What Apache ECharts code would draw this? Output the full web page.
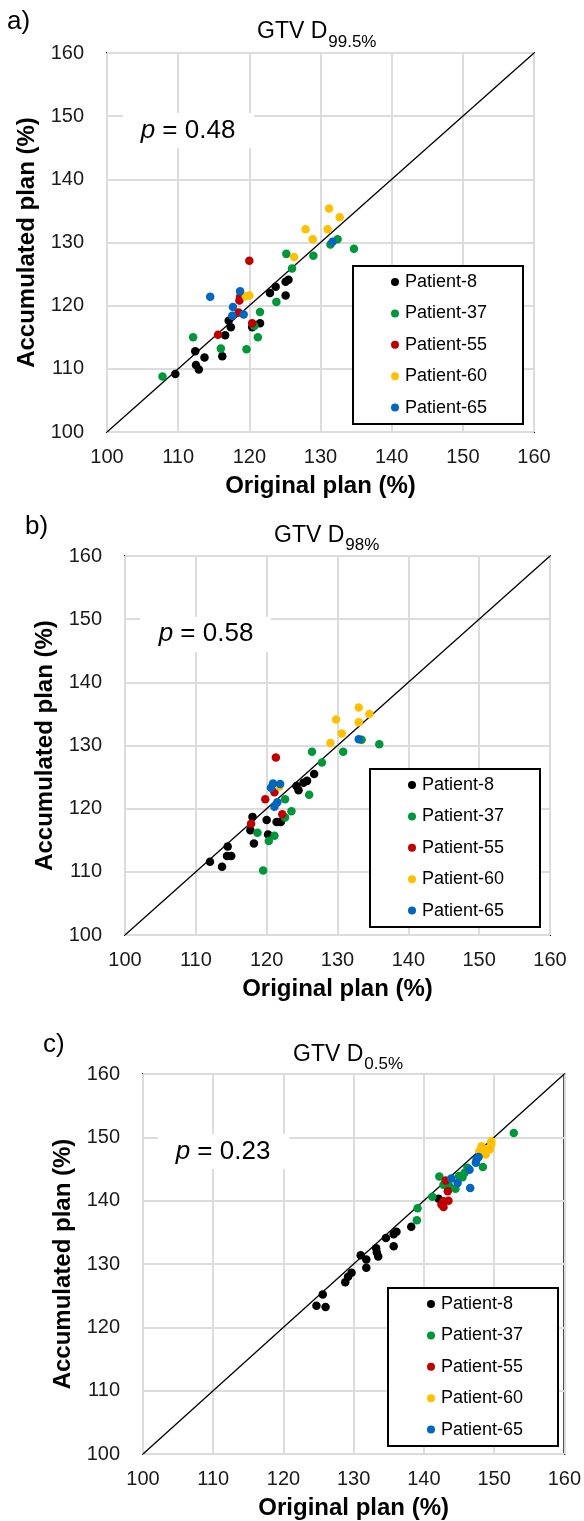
<!DOCTYPE html>
<html>
<head>
<meta charset="utf-8">
<script src="https://cdn.jsdelivr.net/npm/echarts@6/dist/echarts.min.js"></script>
<style>
  html, body { margin: 0; padding: 0; background: #fff; }
  #chart { width: 584px; height: 1521px; }
</style>
</head>
<body>
<div id="chart"></div>
<script>
// Axis ticks shared by all three panels (dose in % of prescription)
const ticks = [100, 110, 120, 130, 140, 150, 160];
// Line of identity
const identity = [[100, 100], [160, 160]];

const patients = ['Patient-8', 'Patient-37', 'Patient-55', 'Patient-60', 'Patient-65'];
const colors = ['#000000', '#00973a', '#c00000', '#ffc000', '#0066c0'];

// a) GTV D99.5%  [original, accumulated]
const d995_p8 = [[109.6,109.2],[112.4,112.8],[112.5,110.6],[112.9,109.9],[113.7,111.8],[116.2,112.0],[116.6,115.3],[117.1,117.6],[117.4,116.6],[120.4,116.6],[121.5,117.2],[122.9,122.0],[123.7,123.0],[125.1,123.8],[125.5,124.1],[125.1,121.6]];
const d995_p37 = [[107.8,108.8],[112.1,115.0],[116.0,113.2],[119.6,113.1],[120.7,116.8],[121.2,115.0],[121.5,119.0],[123.8,120.6],[125.2,128.2],[126.0,125.9],[129.0,127.9],[131.4,129.7],[132.4,130.5],[134.7,129.0]];
const d995_p55 = [[115.6,115.4],[118.5,118.9],[118.6,120.8],[118.7,121.4],[120.0,127.1],[120.4,117.2]];
const d995_p60 = [[119.5,121.5],[120.0,121.6],[126.3,127.7],[128.9,130.5],[127.9,132.1],[131.0,132.1],[131.2,135.4],[132.7,134.0]];
const d995_p65 = [[114.5,121.4],[117.6,118.4],[117.7,119.8],[118.7,122.3],[119.2,118.6],[131.7,130.1]];

// b) GTV D98%
const d98_p8 = [[112.0,111.6],[113.7,110.8],[114.4,112.5],[115.0,112.5],[114.5,114.0],[117.7,116.6],[118.0,118.7],[118.2,114.5],[120.0,118.2],[120.2,115.9],[121.4,117.9],[122.0,117.9],[124.2,123.6],[124.5,122.9],[125.2,124.1],[125.7,124.4],[126.7,125.5]];
const d98_p37 = [[119.5,110.2],[118.7,116.2],[120.3,114.9],[121.1,115.7],[122.6,118.6],[123.5,119.6],[122.6,121.5],[126.0,122.2],[127.8,127.3],[126.4,129.0],[130.8,129.0],[133.4,130.9],[135.9,130.2]];
const d98_p55 = [[117.8,117.6],[119.8,121.5],[121.1,122.6],[122.2,119.1],[121.3,128.1]];
const d98_p60 = [[121.8,123.5],[129.0,130.4],[130.6,131.9],[129.8,134.1],[133.0,133.7],[133.0,136.0],[134.5,135.0]];
const d98_p65 = [[120.6,123.3],[120.9,124.0],[121.9,123.9],[121.1,120.3],[121.5,121.0],[133.0,131.0]];

// c) GTV D0.5%
const d05_p8 = [[124.7,123.4],[125.6,125.2],[126.0,123.2],[128.8,127.1],[129.2,128.0],[129.7,128.6],[131.0,131.4],[131.8,130.7],[131.8,129.4],[133.2,132.5],[133.3,131.8],[133.5,131.2],[134.6,134.1],[135.7,132.8],[135.7,134.7],[136.1,135.1],[138.2,135.9],[142.1,140.3]];
const d05_p37 = [[139.0,136.9],[139.1,138.8],[141.2,140.6],[142.2,143.8],[142.8,142.5],[143.6,142.3],[144.5,141.9],[145.0,143.9],[145.5,143.7],[145.8,144.4],[146.2,145.2],[148.4,145.3],[152.8,150.7]];
const d05_p55 = [[142.5,139.4],[142.8,139.0],[142.8,139.9],[143.5,140.0],[143.4,141.5],[143.1,143.2]];
const d05_p60 = [[147.9,147.8],[148.2,148.6],[148.6,148.1],[148.8,147.3],[149.4,148.1],[149.6,148.9],[149.6,149.4]];
const d05_p65 = [[143.9,143.5],[144.8,142.8],[146.5,144.9],[146.6,142.0],[147.4,146.0],[147.5,146.5],[147.8,146.9]];

const FONT = '"Liberation Sans", Arial, sans-serif';

// Per-panel layout
const panels = [
  { label: 'a)', labelPos: [7, 9], title: 'GTV D', sub: '99.5%', titleX: 257, titleBase: 38, subBase: 47,
    p: '0.48', pBox: [123, 113, 131, 35], pCenter: [188, 131],
    grid: { left: 107, top: 53, width: 427, height: 379 },
    legendBox: [353, 266, 170, 158], legendMarker: [395, 282],
    data: [d995_p8, d995_p37, d995_p55, d995_p60, d995_p65] },
  { label: 'b)', labelPos: [25, 514], title: 'GTV D', sub: '98%', titleX: 274, titleBase: 542, subBase: 550,
    p: '0.58', pBox: [140, 617, 131, 35], pCenter: [206, 634],
    grid: { left: 125, top: 556, width: 425, height: 379 },
    legendBox: [370, 769, 170, 158], legendMarker: [412, 785],
    data: [d98_p8, d98_p37, d98_p55, d98_p60, d98_p65] },
  { label: 'c)', labelPos: [43, 1032], title: 'GTV D', sub: '0.5%', titleX: 293, titleBase: 1061, subBase: 1069,
    p: '0.23', pBox: [158, 1134, 131, 35], pCenter: [223, 1152],
    grid: { left: 143, top: 1074, width: 427, height: 380 },
    legendBox: [388, 1288, 170, 158], legendMarker: [431, 1304],
    data: [d05_p8, d05_p37, d05_p55, d05_p60, d05_p65] }
];

const grids = [], xAxes = [], yAxes = [], series = [], legends = [], graphics = [];

panels.forEach((pn, i) => {
  grids.push(Object.assign({ show: true, borderColor: '#000', borderWidth: 2, backgroundColor: 'transparent' }, pn.grid));

  const axisCommon = {
    min: ticks[0], max: ticks[ticks.length - 1], interval: ticks[1] - ticks[0],
    gridIndex: i,
    axisLine: { show: false }, axisTick: { show: false },
    splitLine: { show: true, lineStyle: { color: '#dcdcdc', width: 2 } },
    nameLocation: 'middle',
    nameTextStyle: { fontFamily: FONT, fontSize: 24, fontWeight: 'bold', color: '#000' }
  };
  xAxes.push(Object.assign({}, axisCommon, {
    type: 'value', name: 'Original plan (%)', nameGap: 42,
    axisLabel: { fontFamily: FONT, fontSize: 20, color: '#1a1a1a', margin: 15 }
  }));
  yAxes.push(Object.assign({}, axisCommon, {
    type: 'value', name: 'Accumulated plan (%)', nameGap: 59,
    axisLabel: { fontFamily: FONT, fontSize: 20, color: '#1a1a1a', margin: 23 }
  }));

  series.push({
    type: 'line', name: 'identity', xAxisIndex: i, yAxisIndex: i,
    data: identity, showSymbol: false, symbol: 'none', silent: true,
    lineStyle: { color: '#000', width: 1.3 }, z: 3
  });
  patients.forEach((name, k) => {
    series.push({
      type: 'scatter', name: name, xAxisIndex: i, yAxisIndex: i,
      data: pn.data[k], symbol: 'circle', symbolSize: 8.5,
      itemStyle: { color: colors[k], opacity: 1 }, z: 4
    });
  });

  legends.push({
    data: patients, orient: 'vertical', z: 20,
    left: pn.legendMarker[0] - 4, top: pn.legendMarker[1] - 9,
    padding: 0, itemWidth: 8, itemHeight: 8, itemGap: 13.4, icon: 'circle',
    textStyle: { fontFamily: FONT, fontSize: 18, color: '#000', lineHeight: 18, padding: [0, 0, 0, 1] },
    selectedMode: false
  });

  // legend frame (white fill hides gridlines behind the legend)
  graphics.push({
    type: 'rect', z: 5,
    shape: { x: pn.legendBox[0], y: pn.legendBox[1], width: pn.legendBox[2], height: pn.legendBox[3] },
    style: { fill: '#fff', stroke: '#000', lineWidth: 2 }
  });
  // panel letter
  graphics.push({
    type: 'text', x: pn.labelPos[0], y: pn.labelPos[1], z: 10,
    style: { text: pn.label, font: '26px ' + FONT, fill: '#000', align: 'left', verticalAlign: 'top' }
  });
  // title with subscript: "GTV D" is 23px, subscript follows right after it
  const titleFont = '23px ' + FONT;
  const titleW = echarts.format.getTextRect
    ? echarts.format.getTextRect(pn.title, titleFont).width
    : 70;
  graphics.push({
    type: 'text', x: pn.titleX, y: pn.titleBase + 5, z: 10,
    style: { text: pn.title, font: titleFont, fill: '#000', align: 'left', verticalAlign: 'bottom' }
  });
  graphics.push({
    type: 'text', x: pn.titleX + titleW + 1, y: pn.subBase + 4, z: 10,
    style: { text: pn.sub, font: '17px ' + FONT, fill: '#000', align: 'left', verticalAlign: 'bottom' }
  });
  // p-value with white backing
  graphics.push({
    type: 'rect', z: 1,
    shape: { x: pn.pBox[0], y: pn.pBox[1], width: pn.pBox[2], height: pn.pBox[3] },
    style: { fill: '#fff' }
  });
  graphics.push({
    type: 'text', x: pn.pCenter[0], y: pn.pCenter[1], z: 10,
    style: {
      text: '{i|p} = ' + pn.p, font: '26px ' + FONT, fill: '#000',
      align: 'center', verticalAlign: 'middle',
      rich: { i: { fontStyle: 'italic', fontSize: 26, fontFamily: FONT, fill: '#000' } }
    }
  });
});

const chart = echarts.init(document.getElementById('chart'), null, { renderer: 'canvas' });
chart.setOption({
  animation: false,
  backgroundColor: '#fff',
  textStyle: { fontFamily: FONT },
  grid: grids, xAxis: xAxes, yAxis: yAxes,
  legend: legends,
  series: series,
  graphic: graphics
});
</script>
</body>
</html>
